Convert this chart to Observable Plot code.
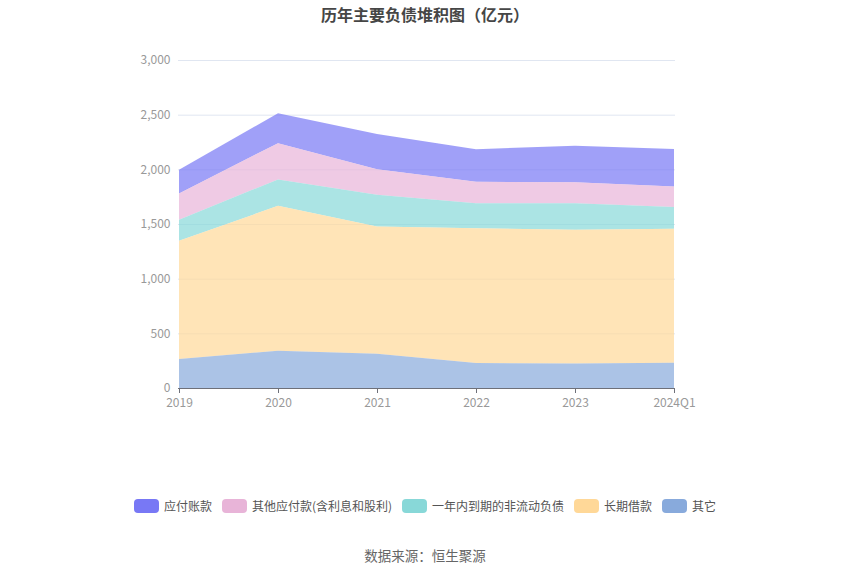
<!DOCTYPE html>
<html>
<head>
<meta charset="utf-8">
<script src="https://cdn.jsdelivr.net/npm/d3@7"></script>
<script src="https://cdn.jsdelivr.net/npm/@observablehq/plot@0.6"></script>
<style>
  html, body { margin: 0; padding: 0; background: #fff; }
  body { width: 850px; height: 575px; position: relative; overflow: hidden;
         font-family: "Noto Sans CJK SC", "Noto Sans", sans-serif; }
  #title { position: absolute; left: 0; top: 2px; width: 850px; text-align: center;
           font-size: 16px; font-weight: bold; color: #464646; line-height: 24px; }
  #chart { position: absolute; left: 0; top: 30px; }
  #legend { position: absolute; left: 0; top: 497px; width: 850px; display: flex;
            justify-content: center; align-items: center; font-size: 12px; color: #555; }
  .item { display: flex; align-items: center; margin: 0 5px; }
  .sw { width: 25px; height: 14px; border-radius: 4px; margin-right: 5px; }
  #caption { position: absolute; left: 0; top: 545px; width: 850px; text-align: center;
             font-size: 13.5px; color: #666; line-height: 20px; }
</style>
</head>
<body>
<div id="title">历年主要负债堆积图（亿元）</div>
<div id="chart"></div>
<div id="legend"></div>
<div id="caption">数据来源：恒生聚源</div>
<script>
const years = ["2019", "2020", "2021", "2022", "2023", "2024Q1"];
const series = ["应付账款", "其他应付款(含利息和股利)", "一年内到期的非流动负债", "长期借款", "其它"];
const colors = ["#7878f5", "#e8b4d8", "#88d8d8", "#ffd898", "#88aadc"];
const yTicks = [0, 500, 1000, 1500, 2000, 2500, 3000];

const accountsPayable = [216, 274, 324, 297, 334, 343];
const otherPayables = [241, 331, 233, 198, 192, 189];
const currentNonCurrent = [193, 242, 290, 227, 242, 199];
const longTermLoans = [1081, 1325, 1164, 1234, 1222, 1225];
const others = [265, 341, 313, 228, 225, 231];

const valuesBySeries = [accountsPayable, otherPayables, currentNonCurrent, longTermLoans, others];
const data = [];
series.forEach((s, i) => {
  years.forEach((y, j) => data.push({ year: y, series: s, value: valuesBySeries[i][j] }));
});
const stackOrder = series.slice().reverse();

const chart = Plot.plot({
  width: 850,
  height: 400,
  marginTop: 30,
  marginLeft: 178,
  marginRight: 175,
  marginBottom: 42,
  style: { fontFamily: "'Noto Sans CJK SC', 'Noto Sans', sans-serif", fontSize: "12px", background: "transparent" },
  x: { type: "point", domain: years, padding: 0 },
  y: { domain: [0, 3000] },
  color: { domain: series, range: colors },
  marks: [
    Plot.gridY(yTicks, { stroke: "#e0e6f1", strokeOpacity: 1 }),
    Plot.areaY(data, { x: "year", y: "value", z: "series", fill: "series", fillOpacity: 0.7, order: stackOrder }),
    Plot.ruleY([0], { stroke: "#6e7079" }),
    Plot.axisY({ ticks: yTicks, tickSize: 0, tickPadding: 8, tickFormat: d3.format(","), fill: "#999", label: null }),
    Plot.axisX({ tickSize: 5, stroke: "#6e7079", fill: "#999", tickPadding: 5, label: null })
  ]
});
document.getElementById("chart").appendChild(chart);

const legend = document.getElementById("legend");
series.forEach((s, i) => {
  const item = document.createElement("div");
  item.className = "item";
  const sw = document.createElement("div");
  sw.className = "sw";
  sw.style.background = colors[i];
  const t = document.createElement("span");
  t.textContent = s;
  item.appendChild(sw);
  item.appendChild(t);
  legend.appendChild(item);
});
</script>
</body>
</html>
